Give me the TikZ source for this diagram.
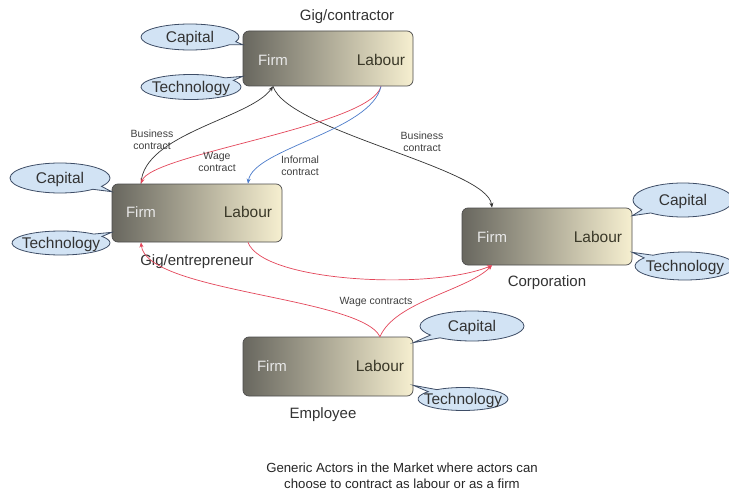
\documentclass[tikz,border=0pt]{standalone}
\usepackage{fontspec}
\setmainfont{Liberation Sans}
\usetikzlibrary{shapes.callouts,calc,arrows.meta}
\definecolor{boxdark}{HTML}{68675F}
\definecolor{boxlight}{HTML}{F6EFD0}
\definecolor{bubblefill}{HTML}{D2E3F4}
\definecolor{bubbleline}{HTML}{3E4D66}
\definecolor{redline}{HTML}{E4465A}
\definecolor{blueline}{HTML}{4C7CCB}
\definecolor{firmtext}{HTML}{E8E8E8}
\definecolor{labtext}{HTML}{3A3828}
\newcommand\bubtxt[1]{\makebox[0pt]{\raisebox{-0.36em}[0pt][0pt]{#1}}}
\tikzset{
  actor/.style={draw=black!70, rounded corners=6pt, left color=boxdark, right color=boxlight, minimum width=170pt, line width=0.7pt},
  firmlbl/.style={text=firmtext, font=\fontsize{15}{17}\selectfont},
  lablbl/.style={text=labtext, font=\fontsize{15.5}{17}\selectfont},
  title/.style={text=black!80, font=\fontsize{15}{17}\selectfont},
  bubble/.style={ellipse callout, draw=bubbleline, fill=bubblefill, line width=0.8pt, inner sep=0pt, outer sep=0pt, text=black!80, font=\fontsize{15.5}{17}\selectfont},
  edgelbl/.style={align=center, text=black!75, font=\fontsize{10.5}{12}\selectfont},
  conn/.style={line width=0.7pt, -{Stealth[length=5pt,width=4pt]}},
}
\begin{document}
\begin{tikzpicture}[x=1pt,y=-1pt]
\useasboundingbox[fill=white] (0,0) rectangle (729,495);

% boxes
\node[actor, minimum height=55pt] (cB) at (328,58.5) {};
\node[actor, minimum height=58pt] (eB) at (197,213) {};
\node[actor, minimum height=57pt] (kB) at (547,236.5) {};
\node[actor, minimum height=59pt] (wB) at (328,366.5) {};

% box texts
\node[firmlbl] (cF) at (273,60) {Firm};
\node[lablbl] (cL) at (381,60) {Labour};
\node[firmlbl] (eF) at (141,212) {Firm};
\node[lablbl] (eL) at (248,212) {Labour};
\node[firmlbl] (kF) at (492,237) {Firm};
\node[lablbl] (kL) at (598,237) {Labour};
\node[firmlbl] (wF) at (272,366) {Firm};
\node[lablbl] (wL) at (380,366) {Labour};

% titles
\node[title] (cT) at (347,17) {Gig/contractor};
\node[title] (eT) at (197,262) {Gig/entrepreneur};
\node[title] (kT) at (547,283) {Corporation};
\node[title] (wT) at (323,415) {Employee};

% bubbles
\node[bubble, minimum width=98pt, minimum height=26pt, callout absolute pointer={($(cB.north west)+(0,14)$)}] (c1) at (190,37) {\bubtxt{Capital}};
\node[bubble, minimum width=100pt, minimum height=25pt, callout absolute pointer={($(cB.south west)+(0,-10)$)}] (c2) at (191,87) {\bubtxt{Technology}};
\node[bubble, minimum width=100pt, minimum height=30pt, callout absolute pointer={($(eB.north west)+(0,8)$)}] (e1) at (60,178) {\bubtxt{Capital}};
\node[bubble, minimum width=98pt, minimum height=24pt, callout absolute pointer={($(eB.south west)+(0,-10)$)}] (e2) at (61,243) {\bubtxt{Technology}};
\node[bubble, minimum width=100pt, minimum height=34pt, callout absolute pointer={($(kB.north east)+(0,8)$)}] (k1) at (683,200) {\bubtxt{Capital}};
\node[bubble, minimum width=100pt, minimum height=28pt, callout absolute pointer={($(kB.south east)+(0,-13)$)}] (k2) at (685,266) {\bubtxt{Technology}};
\node[bubble, minimum width=104pt, minimum height=30pt, callout absolute pointer={($(wB.north east)+(0,6)$)}] (w1) at (472,326) {\bubtxt{Capital}};
\node[bubble, minimum width=90pt, minimum height=23pt, callout absolute pointer={($(wB.south east)+(0,-11)$)}] (w2) at (463,399) {\bubtxt{Technology}};

% attachment points
\coordinate (cFb) at (cF |- cB.south);
\coordinate (cLb) at (cL |- cB.south);
\coordinate (eFt) at (eF |- eB.north);
\coordinate (eLt) at (eL |- eB.north);
\coordinate (eFb) at (eF |- eB.south);
\coordinate (eLb) at (eL |- eB.south);
\coordinate (kFt) at (kF |- kB.north);
\coordinate (kFb) at (kF |- kB.south);
\coordinate (wLt) at (wL |- wB.north);

% connectors
\draw[conn, black!80] (eFt) .. controls +(2,-50) and +(-22,32) .. (cFb);
\draw[conn, black!80] (cFb) .. controls +(15,45) and +(-5,-40) .. (kFt);
\draw[conn, redline] (cLb) .. controls +(-10,40) and +(10,-30) .. (eFt);
\draw[conn, blueline] (cLb) .. controls +(-10,45) and +(5,-35) .. (eLt);
\draw[conn, redline] (eLb) .. controls +(15,40) and +(-60,25) .. (kFb);
\draw[conn, redline] (wLt) .. controls +(-20,-40) and +(5,50) .. (eFb);
\draw[conn, redline] (wLt) .. controls +(15,-35) and +(-25,25) .. (kFb);

% connector labels
\node[edgelbl] (l1) at (152,140) {Business\\contract};
\node[edgelbl] (l2) at (217,162) {Wage\\contract};
\node[edgelbl] (l3) at (300,166) {Informal\\contract};
\node[edgelbl] (l4) at (422,142) {Business\\contract};
\node[edgelbl] (l5) at (376,302) {Wage contracts};

% caption
\node[align=center, text=black!85, font=\fontsize{13.2}{16}\selectfont] (cap) at (402,476) {Generic Actors in the Market where actors can\\choose to contract as labour or as a firm};
\end{tikzpicture}
\end{document}
